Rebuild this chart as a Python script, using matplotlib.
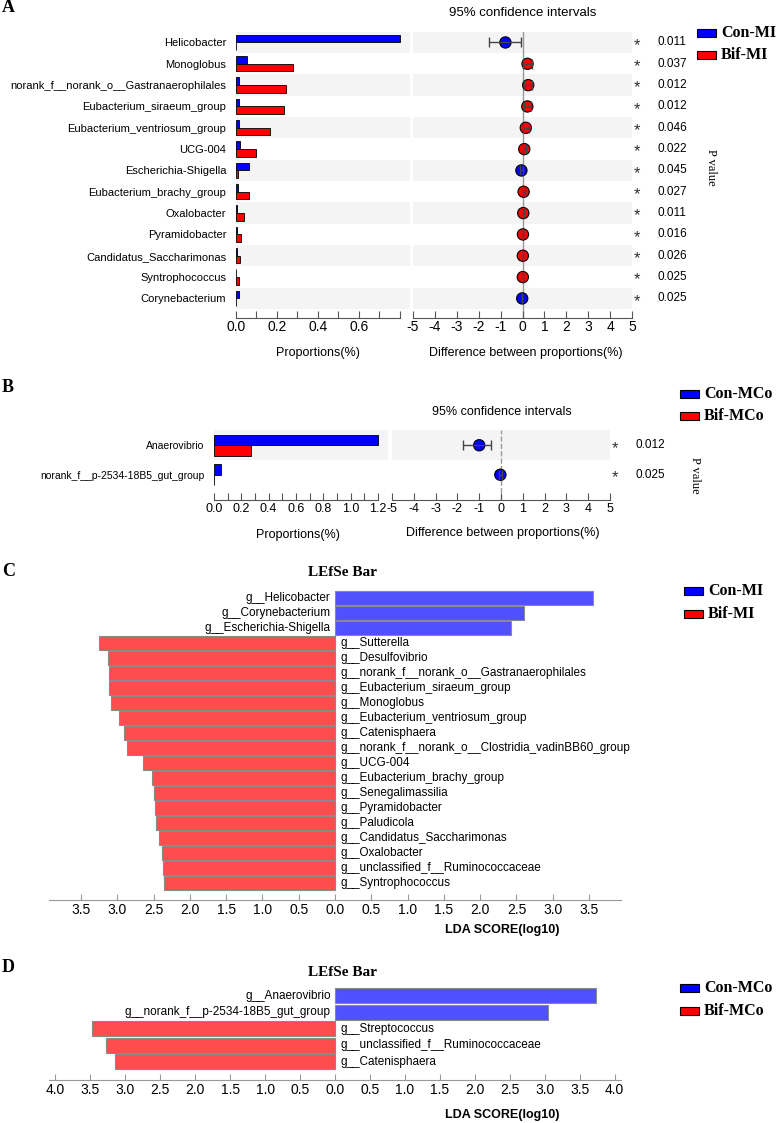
import numpy as np
import matplotlib
matplotlib.use("Agg")
import matplotlib.pyplot as plt
from matplotlib.patches import Rectangle

plt.rcParams['font.family'] = ['Liberation Sans', 'DejaVu Sans']
plt.rcParams['axes.unicode_minus'] = False

# ---------------- data ----------------
a_taxa = ["Helicobacter", "Monoglobus", "norank_f__norank_o__Gastranaerophilales",
          "Eubacterium_siraeum_group", "Eubacterium_ventriosum_group", "UCG-004",
          "Escherichia-Shigella", "Eubacterium_brachy_group", "Oxalobacter",
          "Pyramidobacter", "Candidatus_Saccharimonas", "Syntrophococcus",
          "Corynebacterium"]
a_con = [0.80, 0.054, 0.013, 0.015, 0.015, 0.020, 0.063, 0.008, 0.005, 0.003, 0.005, 0.002, 0.015]
a_bif = [0.002, 0.28, 0.245, 0.234, 0.167, 0.096, 0.010, 0.063, 0.040, 0.023, 0.018, 0.016, 0.002]
a_diff = [-0.78, 0.23, 0.26, 0.22, 0.15, 0.08, -0.05, 0.05, 0.035, 0.02, 0.015, 0.014, -0.013]
a_lo = [-1.52, 0.02, 0.05, 0.05, 0.02, 0.0, -0.12, 0.0, 0.005, 0.005, 0.004, 0.003, -0.025]
a_hi = [-0.05, 0.45, 0.45, 0.40, 0.30, 0.17, 0.01, 0.10, 0.065, 0.04, 0.03, 0.03, -0.002]
a_p = ["0.011", "0.037", "0.012", "0.012", "0.046", "0.022", "0.045", "0.027",
       "0.011", "0.016", "0.026", "0.025", "0.025"]

b_taxa = ["Anaerovibrio", "norank_f__p-2534-18B5_gut_group"]
b_con = [1.20, 0.053]
b_bif = [0.27, 0.002]
b_diff = [-1.0, -0.03]
b_lo = [-1.74, -0.10]
b_hi = [-0.46, 0.04]
b_p = ["0.012", "0.025"]

c_taxa = ["g__Helicobacter", "g__Corynebacterium", "g__Escherichia-Shigella",
          "g__Sutterella", "g__Desulfovibrio", "g__norank_f__norank_o__Gastranaerophilales",
          "g__Eubacterium_siraeum_group", "g__Monoglobus", "g__Eubacterium_ventriosum_group",
          "g__Catenisphaera", "g__norank_f__norank_o__Clostridia_vadinBB60_group",
          "g__UCG-004", "g__Eubacterium_brachy_group", "g__Senegalimassilia",
          "g__Pyramidobacter", "g__Paludicola", "g__Candidatus_Saccharimonas",
          "g__Oxalobacter", "g__unclassified_f__Ruminococcaceae", "g__Syntrophococcus"]
c_lda = [3.55, 2.60, 2.43, 3.25, 3.13, 3.12, 3.11, 3.08, 2.97, 2.91, 2.87,
         2.65, 2.52, 2.50, 2.48, 2.47, 2.43, 2.39, 2.37, 2.36]
c_group = ["Con"] * 3 + ["Bif"] * 17

d_taxa = ["g__Anaerovibrio", "g__norank_f__p-2534-18B5_gut_group", "g__Streptococcus",
          "g__unclassified_f__Ruminococcaceae", "g__Catenisphaera"]
d_lda = [3.73, 3.05, 3.48, 3.28, 3.14]
d_group = ["Con", "Con", "Bif", "Bif", "Bif"]

# ---------------- layout helpers ----------------
W, H = 777, 1123
fig = plt.figure(figsize=(W / 100, H / 100), dpi=100)


def box(l, t, r, b):
    return [l / W, 1 - b / H, (r - l) / W, (b - t) / H]


def ftext(x, y, s, **kw):
    fig.text(x / W, 1 - y / H, s, **kw)


def legend(x, y, labels, colors, gap):
    for i, (lab, col) in enumerate(zip(labels, colors)):
        yy = y + i * gap
        fig.add_artist(Rectangle((x / W, 1 - (yy + 4) / H), 19 / W, 8 / H,
                                 facecolor=col, edgecolor="black", lw=0.8,
                                 transform=fig.transFigure))
        ftext(x + 24, yy, lab, fontsize=11.5, fontweight="bold",
              family="Liberation Serif", va="center", ha="left")


BLUE, RED = "#0000ff", "#ff0000"
GREY = "#f4f4f4"
AXC = "#555555"


def style_bottom(ax, lo, hi, fs):
    for s in ["left", "top", "right"]:
        ax.spines[s].set_visible(False)
    ax.spines["bottom"].set_bounds(lo, hi)
    ax.spines["bottom"].set_color(AXC)
    ax.tick_params(axis="x", direction="in", length=5, color=AXC, pad=2, labelsize=fs)


def stamp_panel(taxa, con, bif, diff, lo, hi, pv, top, step, bottom,
                lx, lr, lticks, lmax, llab, rx, rr, p_x, dashed, fs_lab, fs_tick):
    n = len(taxa)
    y = np.arange(n)
    ybot = (bottom - top) / step - 0.5

    # proportions
    axl = fig.add_axes(box(lx, top, lr, bottom))
    for i in y:
        if i % 2 == 0:
            axl.axhspan(i - 0.5, i + 0.5, color=GREY, zorder=0, lw=0)
    axl.barh(y - 0.36, con, height=0.36, align="edge", color=BLUE, edgecolor="black", lw=0.6)
    axl.barh(y, bif, height=0.36, align="edge", color=RED, edgecolor="black", lw=0.6)
    axl.set_ylim(ybot, -0.5)
    axl.set_xlim(0, lmax)
    axl.set_yticks(y)
    axl.set_yticklabels(taxa, fontsize=fs_lab)
    axl.tick_params(axis="y", length=0, pad=7)
    style_bottom(axl, 0, lticks[-1], fs_tick)
    axl.set_xticks(lticks)
    axl.set_xticklabels(llab)

    # confidence intervals
    axr = fig.add_axes(box(rx, top, rr, bottom))
    for i in y:
        if i % 2 == 0:
            axr.axhspan(i - 0.5, i + 0.5, color=GREY, zorder=0, lw=0)
    axr.axvline(0, color="#999999", lw=1, ls="--" if dashed else "-", zorder=1)
    cols = [BLUE if d < 0 else RED for d in diff]
    axr.scatter(diff, y, s=66, c=cols, edgecolors="black", linewidths=0.8, zorder=3)
    err = [np.array(diff) - np.array(lo), np.array(hi) - np.array(diff)]
    axr.errorbar(diff, y, xerr=err, fmt="none", ecolor="#444444", elinewidth=1,
                 capsize=3.5, capthick=1, zorder=4)
    axr.set_ylim(ybot, -0.5)
    axr.set_xlim(-5, 5)
    axr.set_yticks([])
    style_bottom(axr, -5, 5, fs_tick)
    axr.set_xticks(range(-5, 6))

    for i in y:
        yy = top + (i + 0.5) * step
        ftext(p_x, yy + 3, "*", fontsize=12, ha="center", va="center", color="#333333")
        ftext(p_x + 20, yy, pv[i], fontsize=8.5, ha="left", va="center")
    return axl, axr


# ---------------- panel A ----------------
ftext(2, 8, "A", fontsize=13, fontweight="bold", family="Liberation Serif", va="center")
a_ticks = np.round(np.arange(0, 0.81, 0.1), 1)
a_lab = ["%.1f" % v if k % 2 == 0 else "" for k, v in enumerate(a_ticks)]
a_lab[-1] = ""
stamp_panel(a_taxa, a_con, a_bif, a_diff, a_lo, a_hi, a_p, 31.8, 21.33, 317.5,
            236, 410, a_ticks, 0.849, a_lab, 413, 632, 637, False, 8, 10)
ftext(523, 13, "95% confidence intervals", fontsize=9.5, ha="center", va="center")
ftext(318, 353, "Proportions(%)", fontsize=9, ha="center", va="center")
ftext(526, 353, "Difference between proportions(%)", fontsize=9, ha="center", va="center")
ftext(711, 167, "P value", fontsize=9, family="Liberation Serif", rotation=-90,
      ha="center", va="center")
legend(697, 33, ["Con-MI", "Bif-MI"], [BLUE, RED], 22)

# ---------------- panel B ----------------
ftext(2, 388, "B", fontsize=13, fontweight="bold", family="Liberation Serif", va="center")
b_ticks = np.round(np.arange(0, 1.21, 0.1), 1)
b_lab = ["%.1f" % v if k % 2 == 0 else "" for k, v in enumerate(b_ticks)]
stamp_panel(b_taxa, b_con, b_bif, b_diff, b_lo, b_hi, b_p, 430.5, 29.5, 500,
            214, 388, b_ticks, 1.273, b_lab, 392, 610, 615, True, 7.5, 9)
ftext(502, 412, "95% confidence intervals", fontsize=9, ha="center", va="center")
ftext(298, 535, "Proportions(%)", fontsize=9, ha="center", va="center")
ftext(503, 533, "Difference between proportions(%)", fontsize=9, ha="center", va="center")
ftext(695, 475, "P value", fontsize=9, family="Liberation Serif", rotation=-90,
      ha="center", va="center")
legend(680, 394, ["Con-MCo", "Bif-MCo"], [BLUE, RED], 22)


# ---------------- LEfSe panels ----------------
def lefse(taxa, lda, group, top, step, bottom, xlim, ticks):
    n = len(taxa)
    y = np.arange(n)
    ax = fig.add_axes(box(49, top, 621, bottom))
    vals = np.array([v if g == "Con" else -v for v, g in zip(lda, group)])
    cols = ["#5050ff" if g == "Con" else "#ff4d4d" for g in group]
    ax.barh(y, vals, height=0.9, color=cols, edgecolor="#8a8a8a", lw=0.8)
    off = 0.06
    for i, (t, v) in enumerate(zip(taxa, vals)):
        if v > 0:
            ax.text(-off, i, t, ha="right", va="center", fontsize=8.5)
        else:
            ax.text(off * 1.3, i, t, ha="left", va="center", fontsize=8.5)
    ax.set_ylim((bottom - top) / step - 0.6, -0.6)
    ax.set_xlim(-xlim, xlim)
    ax.set_yticks([])
    for s in ["left", "top", "right"]:
        ax.spines[s].set_visible(False)
    ax.spines["bottom"].set_color("#999999")
    ax.set_xticks(ticks)
    ax.set_xticklabels(["%.1f" % abs(t) for t in ticks])
    ax.tick_params(axis="x", direction="in", length=4, color="#999999", pad=2, labelsize=10)
    return ax


ftext(2, 571, "C", fontsize=13, fontweight="bold", family="Liberation Serif", va="center")
ftext(342, 572, "LEfSe Bar", fontsize=11, fontweight="bold", family="Liberation Serif",
      ha="center", va="center")
lefse(c_taxa, c_lda, c_group, 589, 15, 900, 3.94, np.arange(-3.5, 3.51, 0.5))
ftext(502, 930, "LDA SCORE(log10)", fontsize=9, fontweight="bold", ha="center", va="center")
legend(684, 591, ["Con-MI", "Bif-MI"], [BLUE, RED], 23)

ftext(2, 967, "D", fontsize=13, fontweight="bold", family="Liberation Serif", va="center")
ftext(342, 972, "LEfSe Bar", fontsize=11, fontweight="bold", family="Liberation Serif",
      ha="center", va="center")
lefse(d_taxa, d_lda, d_group, 986, 16.5, 1080, 4.09, np.arange(-4.0, 4.01, 0.5))
ftext(502, 1115, "LDA SCORE(log10)", fontsize=9, fontweight="bold", ha="center", va="center")
legend(680, 988, ["Con-MCo", "Bif-MCo"], [BLUE, RED], 23)

fig.savefig("out.png", dpi=100)
